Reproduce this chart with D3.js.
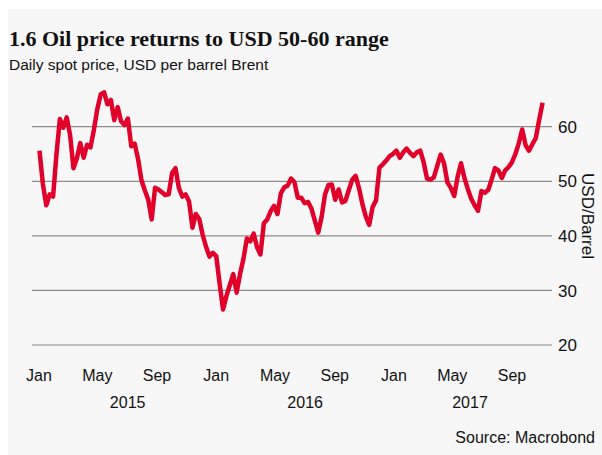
<!DOCTYPE html>
<html lang="en">
    <head>
        <meta charset="utf-8">
        <script src="https://d3js.org/d3.v7.min.js"></script>
        <style>
            body { margin: 0; background: #fff; }
            svg { display: block; }
        </style>
    </head>
    <body>
        <svg></svg>
        <script>
            // Brent, read off the chart roughly once a week from 2 Jan 2015
            const startDate = "2015-01-02";
            const brent = [
                55.6, 49.5, 45.6, 47.6, 47.2, 55.0, 61.4, 59.8, 61.7, 58.5,
                52.4, 54.2, 57.0, 54.3, 56.7, 56.2, 59.4, 63.2, 65.9, 66.3,
                64.1, 64.9, 61.2, 63.6, 61.0, 60.3, 61.5, 56.4, 56.9, 54.1,
                50.2, 48.3, 46.6, 43.0, 48.8, 48.5, 48.0, 47.5, 47.6, 51.5,
                52.4, 48.8, 47.2, 47.6, 46.3, 41.5, 44.0, 43.1, 40.2, 38.0,
                36.2, 36.9, 36.3, 31.2, 26.5, 29.0, 31.0, 33.0, 29.6, 33.0,
                35.8, 39.5, 39.0, 40.4, 37.9, 36.6, 42.3, 43.0, 44.5, 45.5,
                44.0, 47.8, 48.9, 49.2, 50.5, 49.8, 47.0, 47.0, 46.0, 46.2,
                45.0, 42.8, 40.6, 43.5, 47.6, 49.3, 49.4, 46.6, 48.5, 46.1,
                46.4, 48.4, 50.3, 51.0, 48.7, 45.8, 43.5, 42.0, 45.3, 46.5,
                52.5, 53.1, 53.8, 54.6, 55.0, 55.6, 54.3, 55.3, 56.0, 55.2,
                54.6, 55.3, 55.6, 53.5, 50.5, 50.3, 50.7, 52.8, 54.9, 53.3,
                49.8, 48.8, 47.3, 50.8, 53.3, 50.6, 48.6, 46.8, 45.6, 44.6,
                48.2, 47.9, 48.4, 50.3, 52.4, 52.0, 50.6, 52.0, 52.6, 53.5,
                55.0, 57.0, 59.5, 56.6, 55.6, 56.8, 57.9, 61.3, 64.4
            ];

            const yTicks = [20, 30, 40, 50, 60];
            const monthTicks = ["2015-01-01", "2015-05-01", "2015-09-01",
                                "2016-01-01", "2016-05-01", "2016-09-01",
                                "2017-01-01", "2017-05-01", "2017-09-01"];
            const years = ["2015", "2016", "2017"];

            const title = "1.6 Oil price returns to USD 50-60 range";
            const subtitle = "Daily spot price, USD per barrel Brent";
            const unit = "USD/Barrel";
            const source = "Source: Macrobond";

            var width = 602;
            var height = 455;
            var parse = d3.timeParse("%Y-%m-%d");
            var fmtMonth = d3.timeFormat("%b");

            var start = parse(startDate);
            var data = brent.map(function (v, i) {
                return { date: d3.timeDay.offset(start, 7 * i), value: v };
            });

            var xStart = parse("2015-01-01");
            var xEnd = parse("2017-11-10");
            var x = d3.scaleTime().domain([xStart, xEnd]).range([39, 546]);
            var y = d3.scaleLinear().domain([20, 60]).range([345, 126.7]);

            var svg = d3.select("svg")
                .attr("width", width)
                .attr("height", height)
                .style("font-family", "'Liberation Sans', Arial, sans-serif");

            svg.append("rect")
                .attr("x", 8).attr("y", 9)
                .attr("width", width - 8).attr("height", height - 9)
                .attr("fill", "#f7f7f7");

            svg.append("text")
                .attr("x", 9).attr("y", 46)
                .attr("font-family", "'Liberation Serif', serif")
                .attr("font-weight", "bold")
                .attr("font-size", 22)
                .attr("fill", "#111")
                .text(title);

            svg.append("text")
                .attr("x", 9).attr("y", 70)
                .attr("font-size", 15.5)
                .attr("fill", "#111")
                .text(subtitle);

            // gridlines + right axis labels
            var grid = svg.append("g");
            grid.selectAll("line")
                .data(yTicks)
                .enter()
                .append("line")
                .attr("x1", 32).attr("x2", 552)
                .attr("y1", function (d) { return y(d); })
                .attr("y2", function (d) { return y(d); })
                .attr("stroke", function (d) { return d === 20 ? "#bdbdbd" : "#8c8c8c"; })
                .attr("stroke-width", function (d) { return d === 20 ? 2 : 1.2; });

            grid.selectAll("text")
                .data(yTicks)
                .enter()
                .append("text")
                .attr("x", 558)
                .attr("y", function (d) { return y(d); })
                .attr("dy", "0.36em")
                .attr("font-size", 17)
                .attr("fill", "#111")
                .text(function (d) { return d; });

            svg.append("text")
                .attr("transform", "translate(582,216) rotate(90)")
                .attr("text-anchor", "middle")
                .attr("font-size", 17)
                .attr("fill", "#111")
                .text(unit);

            // month + year labels
            svg.append("g")
                .selectAll("text")
                .data(monthTicks.map(parse))
                .enter()
                .append("text")
                .attr("x", function (d) { return x(d); })
                .attr("y", 381)
                .attr("text-anchor", "middle")
                .attr("font-size", 16)
                .attr("fill", "#111")
                .text(function (d) { return fmtMonth(d); });

            svg.append("g")
                .selectAll("text")
                .data(years)
                .enter()
                .append("text")
                .attr("x", function (d) {
                    var a = parse(d + "-01-01");
                    var b = d3.min([parse((+d + 1) + "-01-01"), xEnd]);
                    return (x(a) + x(b)) / 2;
                })
                .attr("y", 408)
                .attr("text-anchor", "middle")
                .attr("font-size", 16)
                .attr("fill", "#111")
                .text(function (d) { return d; });

            svg.append("text")
                .attr("x", 595).attr("y", 443)
                .attr("text-anchor", "end")
                .attr("font-size", 16)
                .attr("fill", "#111")
                .text(source);

            var line = d3.line()
                .x(function (d) { return x(d.date); })
                .y(function (d) { return y(d.value); });

            svg.append("path")
                .datum(data)
                .attr("d", line)
                .attr("fill", "none")
                .attr("stroke", "#e0002a")
                .attr("stroke-width", 4.5)
                .attr("stroke-linejoin", "round");
        </script>
    </body>
</html>
